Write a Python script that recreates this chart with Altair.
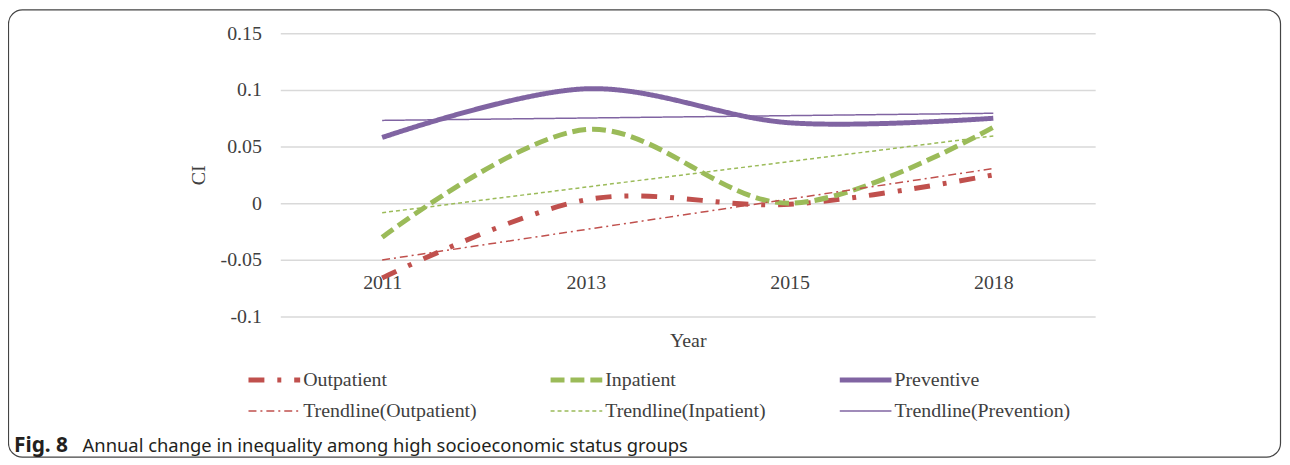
import altair as alt
import pandas as pd

# ---- data ----
years = ["2011", "2013", "2015", "2018"]
outpatient = [-0.066, 0.003, -0.001, 0.025]
inpatient = [-0.030, 0.065, 0.000, 0.067]
preventive = [0.058, 0.101, 0.071, 0.075]

series_names = ["Outpatient", "Inpatient", "Preventive"]
trend_names = ["Trendline(Outpatient)", "Trendline(Inpatient)", "Trendline(Prevention)"]
y_ticks = [-0.1, -0.05, 0, 0.05, 0.1, 0.15]

caption_bold = "Fig. 8"
caption_text = "Annual change in inequality among high socioeconomic status groups"

# ---- build table ----
rows = []
for name, trend, vals in zip(series_names, trend_names, [outpatient, inpatient, preventive]):
    for i, v in enumerate(vals):
        rows.append({"idx": i, "value": v, "series": name, "trend": trend})
df = pd.DataFrame(rows)

domain_all = series_names + trend_names
colors = ["#C0504D", "#9BBB59", "#8064A2", "#C0504D", "#9BBB59", "#8064A2"]
dashes = [[16, 13, 4, 13], [14, 6], [1, 0], [8, 4, 2, 4], [4, 3], [1, 0]]

SERIF = "Liberation Serif"
TXT = "#404040"
FS = 20

thick_list = "[" + ",".join(f"'{s}'" for s in series_names) + "]"
legend = alt.Legend(
    title=None, orient="none", legendX=-16, legendY=339, columns=3, direction="horizontal",
    symbolType="stroke", symbolSize=2704, labelFont=SERIF, labelFontSize=FS,
    labelColor=TXT, columnPadding=64, rowPadding=11, labelOffset=19, labelLimit=400,
    symbolStrokeWidth=alt.ExprRef(expr=f"indexof({thick_list}, datum.value) >= 0 ? 5 : 1.5"),
)

color_enc = alt.Color("series:N", scale=alt.Scale(domain=domain_all, range=colors), legend=legend)
dash_enc = alt.StrokeDash("series:N", scale=alt.Scale(domain=domain_all, range=dashes), legend=legend)

year_expr = "[" + ",".join(f"'{y}'" for y in years) + "][datum.value]"
x_enc = alt.X(
    "idx:Q",
    scale=alt.Scale(domain=[-0.5, 3.5], nice=False, zero=False),
    axis=alt.Axis(values=list(range(len(years))), labelExpr=year_expr, grid=False, ticks=False,
                  domain=False, offset=-45, labelPadding=1, title="Year", titlePadding=38,
                  labelFont=SERIF, labelFontSize=FS, labelColor=TXT, titleFont=SERIF,
                  titleFontSize=FS, titleFontWeight="normal", titleColor=TXT),
)
y_label_expr = "datum.value < 0 ? '-' + format(-datum.value, '.2~f') : format(datum.value, '.2~f')"
y_enc = alt.Y(
    "value:Q",
    scale=alt.Scale(domain=[-0.1, 0.15], nice=False, zero=False),
    axis=alt.Axis(values=y_ticks, labelExpr=y_label_expr, title="CI", domain=False, ticks=False,
                  gridColor="#d9d9d9", gridWidth=1.5, labelPadding=19, titlePadding=12,
                  labelFont=SERIF, labelFontSize=FS, labelColor=TXT, titleFont=SERIF,
                  titleFontSize=FS, titleFontWeight="normal", titleColor=TXT),
)

lines = alt.Chart(df).mark_line(interpolate="cardinal", strokeWidth=5).encode(
    x=x_enc, y=y_enc, color=color_enc, strokeDash=dash_enc, detail="series:N"
)

trends = alt.Chart(df).transform_regression(
    "idx", "value", groupby=["trend"]
).transform_calculate(series="datum.trend").mark_line(strokeWidth=1.5).encode(
    x="idx:Q", y="value:Q", color=color_enc, strokeDash=dash_enc, detail="series:N"
)

frame_df = pd.DataFrame({"k": [0]})
frame = alt.Chart(frame_df).mark_rect(fillOpacity=0, stroke="#444444", strokeWidth=1.2,
                                      cornerRadius=14).encode(
    x=alt.value(-273.5), x2=alt.value(1006.5), y=alt.value(-23.5), y2=alt.value(426.5)
)

cap1 = alt.Chart(pd.DataFrame({"t": [caption_bold]})).mark_text(
    align="left", baseline="middle", font="Noto Sans", fontSize=21, fontWeight="bold",
    color="#231f20").encode(x=alt.value(-268), y=alt.value(415), text="t:N")
cap2 = alt.Chart(pd.DataFrame({"t": [caption_text]})).mark_text(
    align="left", baseline="middle", font="Noto Sans", fontSize=18.5,
    color="#231f20").encode(x=alt.value(-199), y=alt.value(415), text="t:N")

chart = alt.layer(frame, lines, trends, cap1, cap2).properties(
    width=820, height=285,
    padding={"left": 274, "top": 24, "right": 188, "bottom": 148},
    autosize="none", background="white",
).configure_view(strokeWidth=0)

chart.save("out.html", embed_options={"renderer": "svg", "actions": False})
